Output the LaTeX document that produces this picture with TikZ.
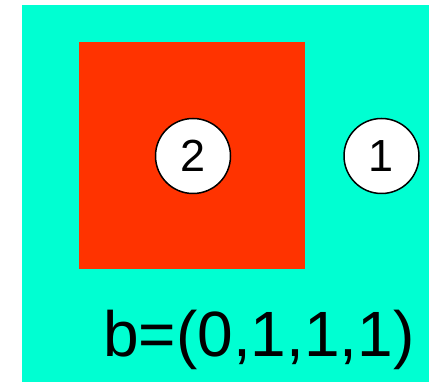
\documentclass[tikz,border=0pt]{standalone}
\usepackage{fontspec}
\setmainfont{Liberation Sans}
\usepackage{tikz}
\usetikzlibrary{positioning}
\definecolor{SetFill}{HTML}{00FFD2}
\definecolor{BlockFill}{HTML}{FF3300}
\tikzset{
  setpanel/.style={fill=SetFill,draw=none},
  blockpanel/.style={fill=BlockFill,draw=none},
  elementdot/.style={circle,draw=black,fill=white,line width=1.5pt,minimum size=75pt,inner sep=0pt,font=\fontsize{45}{45}\selectfont},
  vectorlabel/.style={anchor=base,font=\fontsize{64}{64}\selectfont,inner sep=0pt}
}
\begin{document}
\begin{tikzpicture}[x=1pt,y=-1pt]
  \useasboundingbox (0,0) rectangle (429,382);
  \fill[white] (0,0) rectangle (429,382);
  \draw[setpanel] (22,5) rectangle (429,382);
  \draw[blockpanel] (79,42) rectangle (305,269);

  \node[elementdot] (two) at (193,156) {2};
  \node[elementdot] (one) at (381.5,156) {1};
  \node[vectorlabel] (bvec) at (259,357) {b=(0,1,1,1)};
\end{tikzpicture}
\end{document}
